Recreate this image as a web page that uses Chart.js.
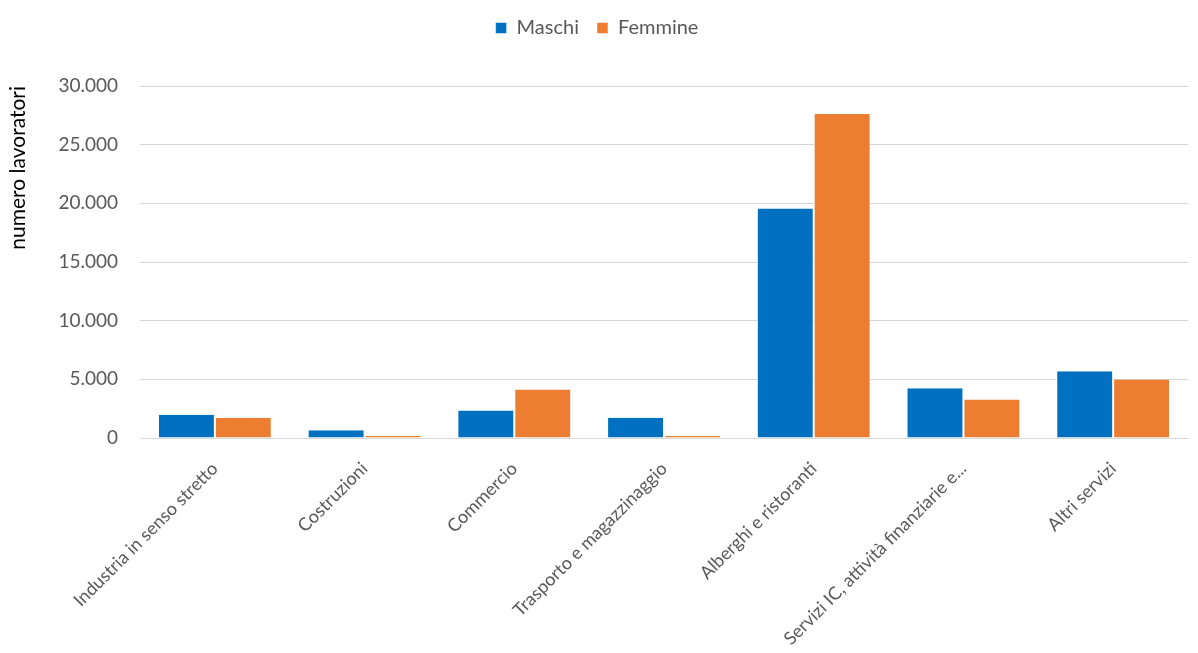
<!DOCTYPE html>
<html>
<head>
<meta charset="utf-8">
<script src="https://cdn.jsdelivr.net/npm/chart.js@4"></script>
<style>
  html, body { margin: 0; padding: 0; background: #fff; }
  #wrap { width: 1198px; height: 653px; }
</style>
</head>
<body>
<div id="wrap"><canvas id="c" width="1198" height="653"></canvas></div>
<script>
var categories = ["Industria in senso stretto", "Costruzioni", "Commercio", "Trasporto e magazzinaggio", "Alberghi e ristoranti", "Servizi IC, attività finanziarie e...", "Altri servizi"];
var maschi = [1985, 650, 2350, 1730, 19560, 4245, 5690];
var femmine = [1730, 170, 4135, 170, 27620, 3285, 4980];
var yTicks = [0, 5000, 10000, 15000, 20000, 25000, 30000];

function fmtIt(v) { return v.toString().replace(/\B(?=(\d{3})+(?!\d))/g, "."); }

var FONT = "Lato, 'Open Sans', sans-serif";
var TXT = "#595959";

new Chart(document.getElementById("c"), {
    type: "bar",
    data: {
        labels: categories,
        datasets: [
            { label: "Maschi", data: maschi, backgroundColor: "#0070C0", borderColor: "#ffffff", borderWidth: { left: 1, right: 1 }, borderSkipped: "bottom" },
            { label: "Femmine", data: femmine, backgroundColor: "#ED7D31", borderColor: "#ffffff", borderWidth: { left: 1, right: 1 }, borderSkipped: "bottom" }
        ]
    },
    options: {
        responsive: false,
        animation: false,
        layout: { padding: { top: 0, right: 10, left: 6 } },
        datasets: { bar: { categoryPercentage: 0.76, barPercentage: 1.0 } },
        plugins: {
            legend: {
                position: "top",
                labels: { boxWidth: 11, boxHeight: 11, padding: 18, color: TXT, font: { family: FONT, size: 20 } }
            },
            tooltip: { enabled: false }
        },
        scales: {
            x: {
                grid: { display: false },
                border: { color: "#d9d9d9" },
                ticks: { color: TXT, font: { family: FONT, size: 18 }, maxRotation: 45, minRotation: 45, autoSkip: false, padding: 12 },
                afterFit: function (s) { s.height = 215; }
            },
            y: {
                min: 0, max: 30000,
                afterBuildTicks: function (s) { s.ticks = yTicks.map(function (v) { return { value: v }; }); },
                grid: { color: "#d4d4d4", lineWidth: 1, tickLength: 0 },
                border: { display: false },
                ticks: { color: TXT, font: { family: FONT, size: 19 }, padding: 22, callback: function (v) { return fmtIt(v); } },
                title: { display: true, text: "numero lavoratori", align: "end", color: "#000", font: { family: FONT, size: 21 }, padding: { top: 0, bottom: 8 } },
                afterFit: function (s) { s.width = 134; }
            }
        }
    },
    plugins: [{
        // spazio extra sotto la legenda
        id: "legendGap",
        afterInit: function (chart) {
            var lg = chart.legend, fit = lg.fit;
            lg.fit = function () { fit.call(this); this.height += 38; };
        }
    }]
});
</script>
</body>
</html>
